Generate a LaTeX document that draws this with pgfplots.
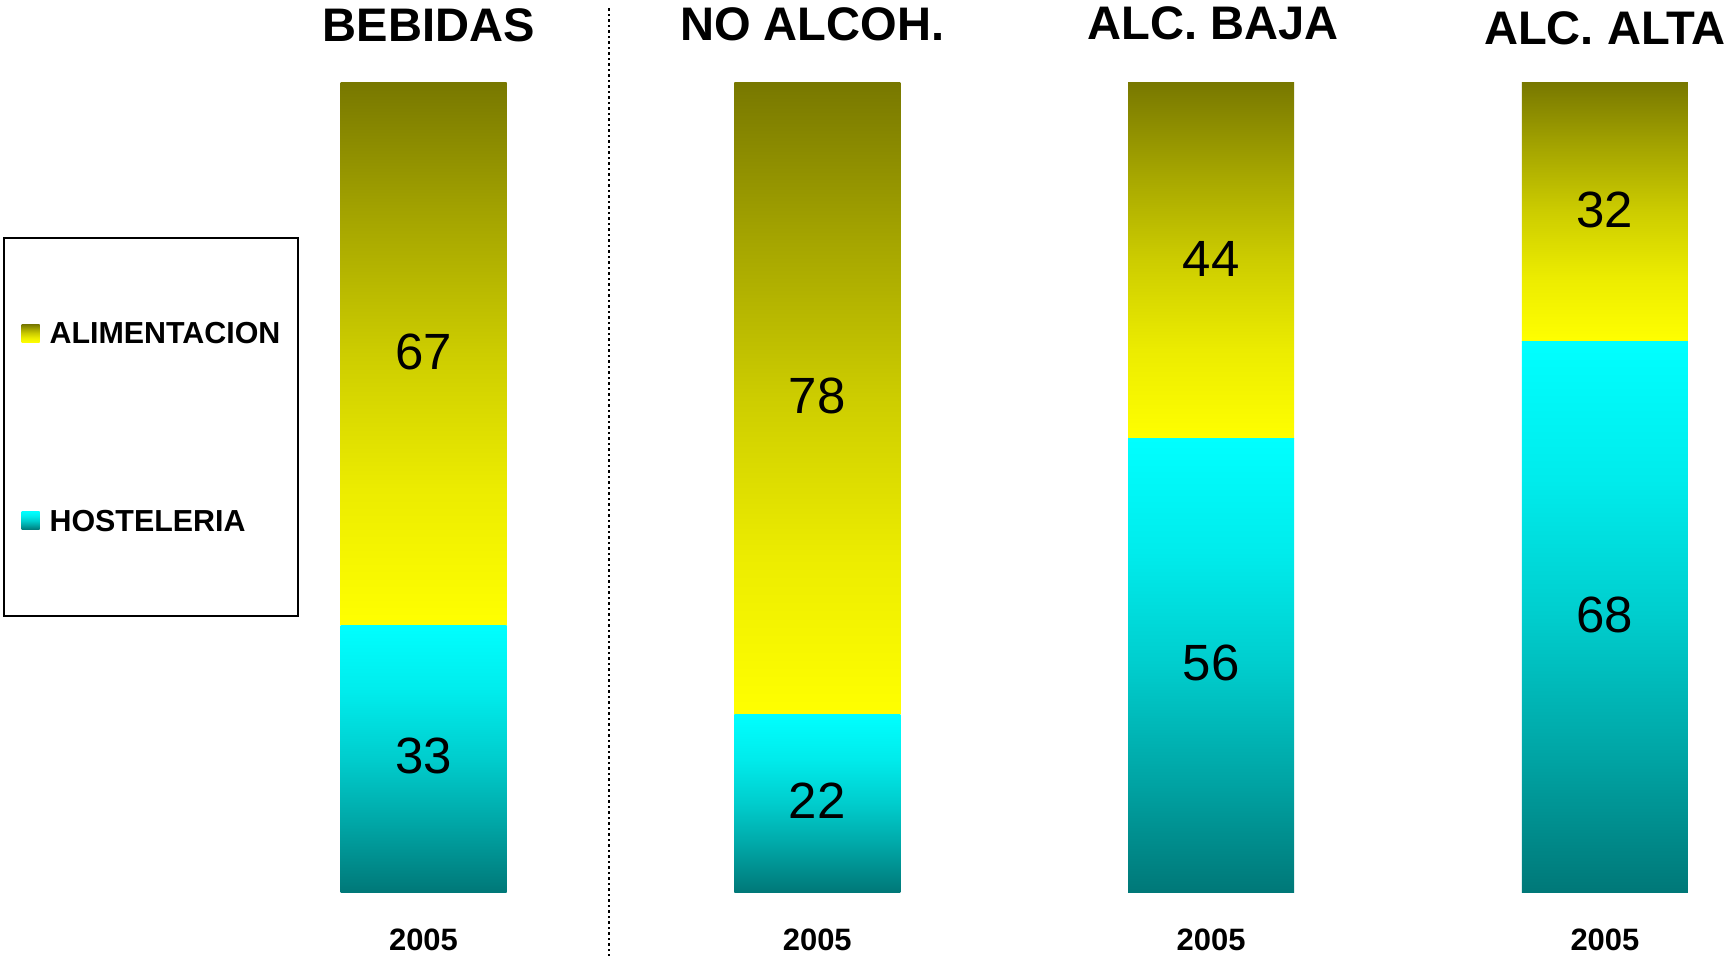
\documentclass[border=0pt]{standalone}
\usepackage{pgfplots}
\pgfplotsset{compat=1.18}
\usepackage{fontspec}
\setmainfont{Liberation Sans}

\pgfdeclareverticalshading{hosshade}{100bp}{rgb(0bp)=(0,0.471,0.471); rgb(25bp)=(0,0.471,0.471); rgb(37.5bp)=(0,0.647,0.647); rgb(50bp)=(0,0.804,0.804); rgb(62.5bp)=(0,0.925,0.925); rgb(75bp)=(0,1,1); rgb(100bp)=(0,1,1)}
\pgfdeclareverticalshading{alishade}{100bp}{rgb(0bp)=(1,1,0); rgb(25bp)=(1,1,0); rgb(37.5bp)=(0.925,0.925,0); rgb(50bp)=(0.804,0.804,0); rgb(62.5bp)=(0.647,0.647,0); rgb(75bp)=(0.471,0.471,0); rgb(100bp)=(0.471,0.471,0)}

\pgfplotsset{
  frame/.style={scale only axis, width=143.3mm, height=80.9mm, at={(30mm,6.3mm)}, anchor=south west,
    xmin=-0.3136, xmax=3.3253, ymin=0, ymax=100},
  barax/.style={frame, hide axis, ybar stacked, bar width=16.6mm},
  hosbar/.style={draw=none, shade, shading=hosshade},
  alibar/.style={draw=none, shade, shading=alishade},
}

\begin{document}
\begin{tikzpicture}
\useasboundingbox (0,0) rectangle (173.3mm,95.5mm);

% BEBIDAS
\begin{axis}[barax]
\addplot[hosbar] coordinates {(0,33)};
\addplot[alibar] coordinates {(0,67)};
\end{axis}
% NO ALCOH.
\begin{axis}[barax]
\addplot[hosbar] coordinates {(1,22)};
\addplot[alibar] coordinates {(1,78)};
\end{axis}
% ALC. BAJA
\begin{axis}[barax]
\addplot[hosbar] coordinates {(2,56)};
\addplot[alibar] coordinates {(2,44)};
\end{axis}
% ALC. ALTA
\begin{axis}[barax]
\addplot[hosbar] coordinates {(3,68)};
\addplot[alibar] coordinates {(3,32)};
\end{axis}

% labels, titles, legend, separator
\begin{axis}[frame, clip=false,
  axis line style={draw=none},
  xtick={0,1,2,3}, xticklabels={2005,2005,2005,2005},
  ytick=\empty, major tick length=0pt,
  xticklabel style={anchor=base, yshift=-5.8mm, font=\bfseries\fontsize{8.8}{10}\selectfont},
  legend cell align=left,
  legend style={at={(-0.1040,0.5748)}, anchor=center, draw=black, line width=0.5pt, fill=white,
    inner xsep=1.78mm, inner ysep=8.5mm, row sep=16.6mm, column sep=1.0mm,
    font=\bfseries\fontsize{8.65}{10}\selectfont,
    nodes={inner sep=0pt, text depth=0pt}},
]
\addlegendimage{legend image code/.code={\path[draw=none, shade, shading=alishade] (0mm,-0.9mm) rectangle (1.8mm,0.9mm);}}
\addlegendentry{ALIMENTACION}
\addlegendimage{legend image code/.code={\path[draw=none, shade, shading=hosshade] (0mm,-0.9mm) rectangle (1.8mm,0.9mm);}}
\addlegendentry{HOSTELERIA}

\addplot[black, line width=0.4pt, dash pattern=on 0.25mm off 0.3mm] coordinates {(0.471,-8) (0.471,109.6)};

\addplot[draw=none, nodes near coords, point meta=explicit symbolic,
  every node near coord/.append style={anchor=center, inner sep=0pt, yshift=0.22mm, text=black, font=\fontsize{14.5}{16}\selectfont}]
  coordinates {(0,16.5) [33] (0,66.5) [67] (1,11) [22] (1,61) [78]
               (2,28) [56] (2,78) [44] (3,34) [68] (3,84) [32]};

\node[anchor=base, font=\bfseries\fontsize{13.4}{15}\selectfont] at (axis cs:0.013,105.1) {BEBIDAS};
\node[anchor=base, font=\bfseries\fontsize{13.4}{15}\selectfont] at (axis cs:0.987,105.2) {NO ALCOH.};
\node[anchor=base, font=\bfseries\fontsize{13.4}{15}\selectfont] at (axis cs:2.005,105.4) {ALC. BAJA};
\node[anchor=base, font=\bfseries\fontsize{13.4}{15}\selectfont] at (axis cs:3.0,104.75) {ALC. ALTA};
\end{axis}
\end{tikzpicture}
\end{document}
